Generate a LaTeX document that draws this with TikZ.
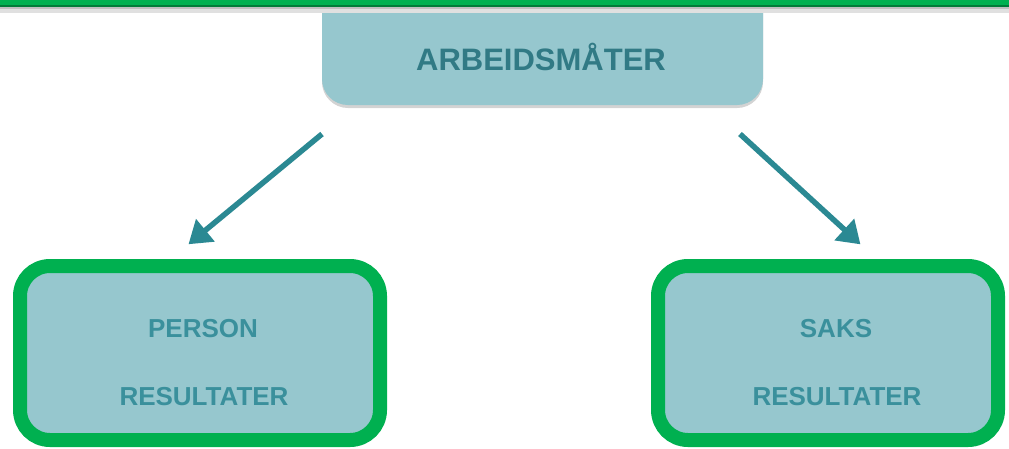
\documentclass[tikz,border=0pt]{standalone}
\usepackage{fontspec}
\setmainfont{Liberation Sans}
\usetikzlibrary{arrows.meta,shadows,calc}
\definecolor{boxfill}{HTML}{96C7CE}
\definecolor{txtteal}{HTML}{3A909C}
\definecolor{arrteal}{HTML}{2B8993}
\definecolor{grn}{HTML}{00B050}
\tikzset{
  topbox/.style={fill=boxfill, rounded corners=26pt, drop shadow={shadow xshift=0pt, shadow yshift=-3pt, opacity=0.35}},
  resbox/.style={draw=grn, line width=14pt, fill=boxfill, rounded corners=30pt,
    minimum width=360pt, minimum height=174pt, inner sep=0pt,
    drop shadow={shadow xshift=2pt, shadow yshift=-3pt, opacity=0.3}},
  lbl/.style={font=\bfseries\fontsize{26}{30}\selectfont, text=txtteal},
  toplbl/.style={font=\bfseries\fontsize{31}{34}\selectfont, text=txtteal!85!black},
  conn/.style={draw=arrteal, line width=5.5pt, -{Triangle[length=22pt,width=28pt]}, shorten >=-2pt}
}
\begin{document}
\begin{tikzpicture}[x=1pt,y=-1pt]
\useasboundingbox (0,0) rectangle (1009,448);
% top box (extends under the bar)
\fill[topbox] (322,-40) rectangle (763,105);
\node[toplbl] (top) at (541,57) {ARBEIDSMÅTER};
% green top bar with shadow
\fill[black!25] (0,5) rectangle (1009,9);
\fill[black!12] (0,9) rectangle (1009,13);
\fill[grn!70!black] (0,5) rectangle (1009,6.5);
\fill[grn] (0,0) rectangle (1009,5);
% result boxes
\node[resbox] (left) at (200,353) {};
\node[lbl] (ltop) at (203,329) {PERSON};
\node[lbl] (lbot) at (204,397) {RESULTATER};
\node[resbox, minimum width=340pt] (right) at (828,353) {};
\node[lbl] (rtop) at (836,329) {SAKS};
\node[lbl] (rbot) at (837,397) {RESULTATER};
% connectors
\coordinate (a1s) at (322,134);
\coordinate (a1e) at (190,243);
\coordinate (a2s) at (740,134);
\coordinate (a2e) at (859,243);
\draw[conn] (a1s) -- (a1e);
\draw[conn] (a2s) -- (a2e);
\end{tikzpicture}
\end{document}
